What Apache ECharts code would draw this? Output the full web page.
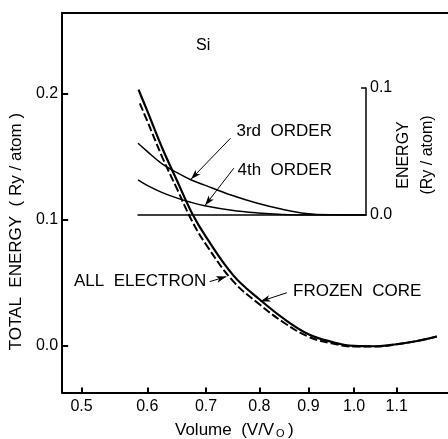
<!DOCTYPE html>
<html><head><meta charset="utf-8">
<script src="https://cdn.jsdelivr.net/npm/echarts@6/dist/echarts.min.js"></script>
<style>html,body{margin:0;padding:0;background:#fff}#c{width:448px;height:439px}</style>
</head><body><div id="c"></div>
<script>
// ---- data ----
const volume = [0.586,0.60,0.625,0.65,0.675,0.70,0.75,0.80,0.85,0.90,0.95,1.00,1.05,1.10,1.15,1.20];
const frozenCore = [0.203,0.186,0.156,0.130,0.105,0.086,0.0555,0.0365,0.0207,0.0088,0.0027,-0.0005,-0.0008,0.0008,0.0034,0.0070];
const volumeAE = [0.588,0.60,0.625,0.65,0.675,0.70,0.75,0.80,0.85,0.90,0.95,1.00,1.05,1.10,1.15,1.20];
const allElectron = [0.192,0.178,0.1488,0.1235,0.0988,0.080,0.0507,0.0325,0.0177,0.0068,0.0015,-0.001,-0.001,0.0008,0.0034,0.0070];
const volumeInset = [0.586,0.60,0.625,0.65,0.675,0.70,0.75,0.80,0.85,0.90,0.95,1.00,1.035];
const thirdOrder = [0.0565,0.0505,0.0405,0.0335,0.0278,0.0235,0.0155,0.0092,0.0045,0.0012,0.0001,0,0];
const fourthOrder = [0.0276,0.0235,0.0178,0.0135,0.0100,0.0073,0.0037,0.0016,0.0004,0.0,0,0,0];
const xTickVolumes = [0.5,0.6,0.7,0.8,0.9,1.0,1.1];
const yTicks = [0.0,0.1,0.2];
const insetTicks = [0.0,0.1];

// ---- layout ----
const FONT = '"Liberation Sans", Arial, sans-serif';
const MAIN = {left:61.5, top:12.7, right:448, bottom:392.5};
const X_VIEW_V = [0.4727, 1.2289];
const Y_VIEW = [-0.0375, 0.264];
const INSET = {left:138, right:369, top:88, bottom:215};
const cb = Math.cbrt;
const aL = cb(X_VIEW_V[0]), aR = cb(X_VIEW_V[1]);
const aAt = px => aL + (px - MAIN.left) / (MAIN.right - MAIN.left) * (aR - aL);
const insetA = [aAt(INSET.left), aAt(INSET.right)];
const pts = (xs, ys) => xs.map((v, i) => [cb(v), ys[i]]);

const arrow = (v1, e1, v2, e2) => ({
  silent: true, symbol: ['none', 'arrow'], symbolSize: [5, 10], animation: false,
  lineStyle: {color: '#000', width: 1, type: 'solid'}, label: {show: false},
  data: [[{coord: [cb(v1), e1]}, {coord: [cb(v2), e2]}]]
});

const chart = echarts.init(document.getElementById('c'), null, {renderer: 'canvas'});
const txt = (t, x, y, size) => ({
  type: 'text', x: x, y: y, silent: true,
  style: {text: t, fill: '#000', font: size + 'px ' + FONT, textAlign: 'left', textVerticalAlign: 'middle'}
});

chart.setOption({
  animation: false,
  backgroundColor: '#fff',
  grid: [
    {left: MAIN.left, top: MAIN.top, width: MAIN.right - MAIN.left, height: MAIN.bottom - MAIN.top, containLabel: false},
    {left: INSET.left, top: INSET.top, width: INSET.right - INSET.left, height: INSET.bottom - INSET.top, containLabel: false}
  ],
  xAxis: [
    {type: 'value', gridIndex: 0, position: 'bottom', min: aL, max: aR,
     axisLine: {show: true, onZero: false, lineStyle: {color: '#000', width: 2}},
     axisTick: {show: true, inside: true, length: 5, lineStyle: {color: '#000', width: 2}, customValues: xTickVolumes.map(cb)},
     axisLabel: {show: true, customValues: xTickVolumes.map(cb), margin: 6, color: '#000', fontSize: 16, fontFamily: FONT,
       formatter: v => Math.pow(v, 3).toFixed(1)},
     splitLine: {show: false}},
    {type: 'value', gridIndex: 0, position: 'top', min: aL, max: aR,
     axisLine: {show: true, onZero: false, lineStyle: {color: '#000', width: 2}},
     axisTick: {show: false}, axisLabel: {show: false}, splitLine: {show: false}},
    {type: 'value', gridIndex: 1, position: 'bottom', min: insetA[0], max: insetA[1],
     axisLine: {show: true, onZero: false, lineStyle: {color: '#000', width: 1.5}},
     axisTick: {show: false}, axisLabel: {show: false}, splitLine: {show: false}}
  ],
  yAxis: [
    {type: 'value', gridIndex: 0, position: 'left', min: Y_VIEW[0], max: Y_VIEW[1],
     name: 'TOTAL  ENERGY  ( Ry / atom )', nameLocation: 'middle', nameRotate: 90, nameGap: 33,
     nameTextStyle: {color: '#000', fontSize: 17, fontFamily: FONT, padding: [0, 58, 0, 0]},
     axisLine: {show: true, onZero: false, lineStyle: {color: '#000', width: 2}},
     axisTick: {show: true, inside: true, length: 6, lineStyle: {color: '#000', width: 2}, customValues: yTicks},
     axisLabel: {show: true, customValues: yTicks, margin: 4, color: '#000', fontSize: 16, fontFamily: FONT,
       formatter: v => v.toFixed(1)},
     splitLine: {show: false}},
    {type: 'value', gridIndex: 1, position: 'right', min: 0, max: 0.1,
     axisLine: {show: true, onZero: false, lineStyle: {color: '#000', width: 1.5}},
     axisTick: {show: true, inside: true, length: 5, lineStyle: {color: '#000', width: 1.5}, customValues: [0.1]},
     axisLabel: {show: true, customValues: insetTicks, margin: 4, color: '#000', fontSize: 16, fontFamily: FONT,
       formatter: v => v.toFixed(1)},
     splitLine: {show: false}},
    {type: 'value', gridIndex: 1, position: 'right', min: 0, max: 0.1,
     name: 'ENERGY\n(Ry / atom)', nameLocation: 'middle', nameRotate: 90, nameGap: 26,
     nameTextStyle: {color: '#000', fontSize: 16, fontFamily: FONT, lineHeight: 24, align: 'center', padding: [0, 7, 0, 0]},
     axisLine: {show: false}, axisTick: {show: false}, axisLabel: {show: false}, splitLine: {show: false}}
  ],
  series: [
    {name: 'FROZEN CORE', type: 'line', xAxisIndex: 0, yAxisIndex: 0, data: pts(volume, frozenCore),
     smooth: 0.4, showSymbol: false, lineStyle: {color: '#000', width: 2.2},
     markLine: arrow(0.855, 0.0417, 0.802, 0.0348)},
    {name: 'ALL ELECTRON', type: 'line', xAxisIndex: 0, yAxisIndex: 0, data: pts(volumeAE, allElectron),
     smooth: 0.4, showSymbol: false, lineStyle: {color: '#000', width: 2, type: [8, 3]},
     markLine: arrow(0.7066, 0.0505, 0.737, 0.0545)},
    {name: '3rd ORDER', type: 'line', xAxisIndex: 2, yAxisIndex: 1, data: pts(volumeInset, thirdOrder),
     smooth: 0.4, showSymbol: false, lineStyle: {color: '#000', width: 1.5},
     markLine: arrow(0.7477, 0.0604, 0.6754, 0.0282)},
    {name: '4th ORDER', type: 'line', xAxisIndex: 2, yAxisIndex: 1, data: pts(volumeInset, fourthOrder),
     smooth: 0.4, showSymbol: false, lineStyle: {color: '#000', width: 1.5},
     markLine: arrow(0.7539, 0.0368, 0.7007, 0.0076)}
  ],
  graphic: [
    txt('Si', 196, 46, 16),
    txt('3rd  ORDER', 236.5, 131.5, 17),
    txt('4th  ORDER', 237.5, 170, 17),
    txt('ALL  ELECTRON', 74, 281.7, 17),
    txt('FROZEN  CORE', 293, 291.7, 17),
    txt('Volume  (V/V', 175, 430, 17),
    txt('O', 276, 434, 11),
    txt(')', 288, 430, 17)
  ]
});
</script>
</body></html>
